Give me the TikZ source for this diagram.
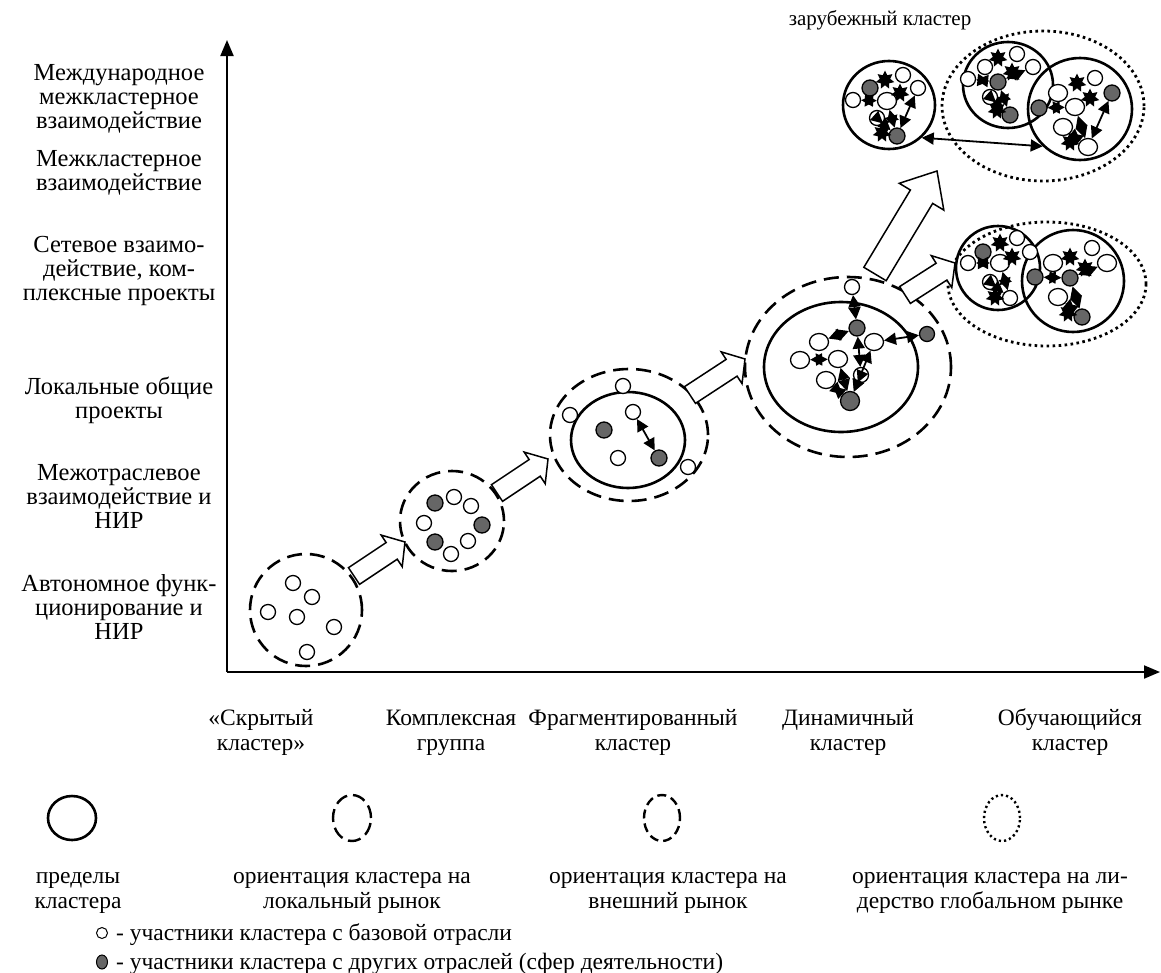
\documentclass[tikz,border=0pt]{standalone}
\usepackage{fontspec}
\setmainfont{Liberation Serif}
\usetikzlibrary{arrows.meta,shapes.geometric,calc}
\newcommand\blockarr[5]{%
  \path ($(#2)!#5!(#1)$) coordinate (bh);
  \draw[line width=1.5pt,fill=white,line join=miter]
    ($(#1)!#3!90:(#2)$) -- ($(bh)!#3!90:(#2)$) -- ($(bh)!#4!90:(#2)$) -- (#2)
    -- ($(bh)!#4!-90:(#2)$) -- ($(bh)!#3!-90:(#2)$) -- ($(#1)!#3!-90:(#2)$) -- cycle;}
\begin{document}
\begin{tikzpicture}[x=1pt,y=-1pt,
  wp/.style={circle,draw,line width=1.3pt,fill=white,minimum size=15pt,inner sep=0pt},
  wpb/.style={ellipse,draw,line width=1.3pt,fill=white,minimum width=19pt,minimum height=17pt,inner sep=0pt},
  gp/.style={circle,draw,line width=1.3pt,fill=black!60,minimum size=16pt,inner sep=0pt},
  bnd/.style={ellipse,draw,line width=2.6pt,inner sep=0pt},
  loc/.style={ellipse,draw,line width=2.6pt,dash pattern=on 15pt off 8pt,inner sep=0pt},
  glob/.style={ellipse,draw,line width=2.8pt,dash pattern=on 2.6pt off 3.4pt,inner sep=0pt},
  dbl/.style={line width=1.8pt,{Triangle[length=12pt,width=12pt]}-{Triangle[length=12pt,width=12pt]}},
  starb/.style={star,star points=7,star point ratio=1.8,fill=black,minimum size=19pt,inner sep=0pt},
  lbl/.style={font=\fontsize{23.5}{24.5}\selectfont,align=center,inner sep=0pt,anchor=base},
  ylbl/.style={lbl,font=\fontsize{24.5}{24}\selectfont},
  axis/.style={line width=2pt,-{Triangle[length=16pt,width=13pt]}}
]
\useasboundingbox (0,0) rectangle (1161,972);

% axes
\coordinate (O) at (227,672);
\coordinate (Ytop) at (227,40);
\coordinate (Xend) at (1160,672);
\draw[axis] (O) -- (Ytop);
\draw[axis] (O) -- (Xend);

% y labels (anchor = baseline of last line)
\node[ylbl] (y1) at (119,128) {Международное\\межкластерное\\взаимодействие};
\node[ylbl] (y2) at (119,190) {Межкластерное\\взаимодействие};
\node[ylbl] (y3) at (119,300) {Сетевое взаимо-\\действие, ком-\\плексные проекты};
\node[ylbl] (y4) at (119,418) {Локальные общие\\проекты};
\node[ylbl] (y5) at (119,528) {Межотраслевое\\взаимодействие и\\НИР};
\node[ylbl] (y6) at (119,639) {Автономное функ-\\ционирование и\\НИР};

% x labels
\node[lbl] (x1) at (261,750) {«Скрытый\\кластер»};
\node[lbl] (x2) at (451,750) {Комплексная\\группа};
\node[lbl] (x3) at (633,750) {Фрагментированный\\кластер};
\node[lbl] (x4) at (848,750) {Динамичный\\кластер};
\node[lbl] (x5) at (1070,750) {Обучающийся\\кластер};

% cluster boundaries
\node[loc,minimum width=112,minimum height=112] (c1) at (306,610) {};
\node[loc,minimum width=104,minimum height=100] (c2) at (452,521) {};
\node[loc,minimum width=158,minimum height=132] (c3o) at (629,435) {};
\node[bnd,minimum width=114,minimum height=96] (c3i) at (628,440) {};
\node[loc,minimum width=206,minimum height=180] (c4o) at (848,367) {};
\node[bnd,minimum width=154,minimum height=130] (c4i) at (841,367) {};
\node[glob,minimum width=202,minimum height=150] (d1) at (1043,106) {};
\node[bnd,minimum width=92,minimum height=88] (f) at (889,105) {};
\node[bnd,minimum width=90,minimum height=86] (la) at (1008,85) {};
\node[bnd,minimum width=104,minimum height=102] (lb) at (1080,109) {};
\node[glob,minimum width=198,minimum height=124] (d2) at (1047,284) {};
\node[bnd,minimum width=84,minimum height=84] (ma) at (998,268) {};
\node[bnd,minimum width=102,minimum height=102] (mb) at (1073,281) {};

% block arrows
\coordinate (a1t) at (354,576); \coordinate (a1h) at (405,542);
\coordinate (a2t) at (497,493); \coordinate (a2h) at (548,459);
\coordinate (a3t) at (690,395); \coordinate (a3h) at (745,359);
\coordinate (a4t) at (875,274); \coordinate (a4h) at (937,171);
\coordinate (a5t) at (905,295); \coordinate (a5h) at (955,263);
\blockarr{a1t}{a1h}{10pt}{19pt}{16pt}
\blockarr{a2t}{a2h}{10pt}{19pt}{16pt}
\blockarr{a3t}{a3h}{10pt}{19pt}{16pt}
\blockarr{a4t}{a4h}{13pt}{26pt}{30pt}
\blockarr{a5t}{a5h}{10pt}{19pt}{16pt}

% cluster 1
\node[wp] (c1a) at (293,583) {};
\node[wp] (c1b) at (312,597) {};
\node[wp] (c1c) at (268,612) {};
\node[wp] (c1d) at (297,617) {};
\node[wp] (c1e) at (334,627) {};
\node[wp] (c1f) at (307,652) {};

% cluster 2
\node[gp] (c2a) at (435,503) {};
\node[wp] (c2b) at (454,497) {};
\node[wp] (c2c) at (471,506) {};
\node[wp] (c2d) at (424,523) {};
\node[gp] (c2e) at (482,525) {};
\node[gp] (c2f) at (435,542) {};
\node[wp] (c2g) at (468,541) {};
\node[wp] (c2h) at (451,554) {};

% cluster 3
\node[wp] (c3a) at (623,386) {};
\node[wp] (c3b) at (570,415) {};
\node[wp] (c3c) at (633,412) {};
\node[gp] (c3d) at (604,430) {};
\node[wp] (c3e) at (618,458) {};
\node[gp] (c3f) at (659,458) {};
\node[wp] (c3g) at (688,467) {};
\draw[dbl] (c3c) -- (c3f);

% cluster 4
\node[wp] (c4a) at (852,287) {};
\node[gp] (c4b) at (857,328) {};
\node[wpb] (c4c) at (819,342) {};
\node[wpb] (c4d) at (874,342) {};
\node[wpb] (c4e) at (800,360) {};
\node[wpb] (c4f) at (838,359) {};
\node[wpb] (c4g) at (826,380) {};
\node[wp] (c4h) at (861,375) {};
\node[gp,minimum size=19pt] (c4k) at (850,401) {};
\node[gp,minimum size=15pt] (c4j) at (927,334) {};
\draw[dbl] (c4a) -- (c4b);
\draw[dbl] (c4c) -- (c4b);
\draw[dbl] (c4b) -- (c4h);
\draw[dbl] (c4e) -- (c4f);
\draw[dbl] (c4f) -- (c4k);
\draw[dbl] (c4g) -- (c4k);
\draw[dbl] (c4k) -- (c4d);
\draw[dbl] (c4j) -- (c4d);
\draw[dbl] (c4h) -- (c4k);

% foreign cluster
\node[gp] (f1) at (870,88) {};
\node[wp] (f2) at (903,75) {};
\node[wp] (f3) at (918,88) {};
\node[wp] (f4) at (853,100) {};
\node[wpb] (f5) at (887,101) {};
\node[wp] (f6) at (877,118) {};
\node[gp] (f7) at (897,136) {};
\node[starb] (fs1) at (885,80) {};
\node[starb] (fs2) at (900,93) {};
\node[starb] (fs3) at (882,133) {};
\draw[dbl] (f4) -- (f5);
\draw[dbl] (f7) -- (f3);
\draw[dbl] (f6) -- (f7);
\draw[dbl] (f5) -- (f7);

% learning cluster A
\node[wp] (a1) at (1017,54) {};
\node[wp] (a2) at (985,67) {};
\node[wp] (a3) at (1033,67) {};
\node[wp] (a4) at (968,79) {};
\node[gp] (a5) at (998,82) {};
\node[wp] (a6) at (990,97) {};
\node[gp] (a7) at (1010,115) {};
\node[starb] (as1) at (998,58) {};
\node[starb] (as2) at (1012,72) {};
\node[starb] (as3) at (997,110) {};
\draw[dbl] (a4) -- (a5);
\draw[dbl] (a5) -- (a3);
\draw[dbl] (a6) -- (a7);
\draw[dbl] (a5) -- (a7);

% learning cluster B
\node[wp] (b1) at (1095,78) {};
\node[wpb] (b2) at (1058,93) {};
\node[gp] (b3) at (1112,93) {};
\node[gp] (b4) at (1039,108) {};
\node[wpb] (b5) at (1075,107) {};
\node[wpb] (b6) at (1063,127) {};
\node[wpb] (b7) at (1088,147) {};
\node[starb] (bs1) at (1077,83) {};
\node[starb] (bs2) at (1090,98) {};
\node[starb] (bs3) at (1070,142) {};
\draw[dbl] (b4) -- (b5);
\draw[dbl] (b7) -- (b3);
\draw[dbl] (b5) -- (b7);
\draw[dbl] (b6) -- (b7);

\draw[dbl] (f.-45) -- (lb.-135);

% lower learning cluster A
\node[gp] (m1) at (983,252) {};
\node[wp] (m2) at (1017,238) {};
\node[wp] (m3) at (1030,252) {};
\node[wp] (m4) at (968,263) {};
\node[wpb] (m5) at (1000,263) {};
\node[wp] (m6) at (990,282) {};
\node[wp] (m7) at (1010,298) {};
\node[starb] (ms1) at (1000,243) {};
\node[starb] (ms2) at (1012,257) {};
\node[starb] (ms3) at (995,297) {};
\draw[dbl] (m4) -- (m5);
\draw[dbl] (m6) -- (m7);
\draw[dbl] (m5) -- (m7);

% lower learning cluster B
\node[wp] (n1) at (1092,248) {};
\node[wpb] (n2) at (1053,263) {};
\node[wpb] (n3) at (1107,263) {};
\node[gp] (n4) at (1035,277) {};
\node[gp] (n5) at (1070,278) {};
\node[wpb] (n6) at (1058,297) {};
\node[gp] (n7) at (1082,317) {};
\node[starb] (ns1) at (1070,257) {};
\node[starb] (ns2) at (1085,268) {};
\node[starb] (ns3) at (1068,313) {};
\draw[dbl] (n4) -- (n5);
\draw[dbl] (n5) -- (n3);
\draw[dbl] (n6) -- (n7);
\draw[dbl] (n5) -- (n7);

\node[lbl,font=\fontsize{21}{22}\selectfont] (fl) at (880,25) {зарубежный кластер};

% legend
\node[bnd,minimum width=48,minimum height=44] (L1) at (72,818) {};
\node[ellipse,draw,line width=2.4pt,dash pattern=on 13pt off 6pt,minimum width=38,minimum height=46,inner sep=0pt] (L2) at (352,818) {};
\node[ellipse,draw,line width=2.4pt,dash pattern=on 9pt off 5pt,minimum width=36,minimum height=46,inner sep=0pt] (L3) at (662,818) {};
\node[ellipse,draw,line width=2.4pt,dash pattern=on 2.2pt off 3pt,minimum width=36,minimum height=46,inner sep=0pt] (L4) at (1002,818) {};
\node[lbl] (t1) at (78,908) {пределы\\кластера};
\node[lbl] (t2) at (352,908) {ориентация кластера на\\локальный рынок};
\node[lbl] (t3) at (668,908) {ориентация кластера на\\внешний рынок};
\node[lbl] (t4) at (990,908) {ориентация кластера на ли-\\дерство глобальном рынке};

\node[circle,draw,line width=1pt,minimum size=11pt,inner sep=0pt] (bw) at (102,933) {};
\node[lbl,anchor=base west] (tw) at (116,940) {- участники кластера с базовой отрасли};
\node[ellipse,draw,line width=1pt,fill=black!60,minimum width=11pt,minimum height=14pt,inner sep=0pt] (bg) at (102,962) {};
\node[lbl,anchor=base west] (tg) at (116,969) {- участники кластера с других отраслей (сфер деятельности)};
\end{tikzpicture}
\end{document}
